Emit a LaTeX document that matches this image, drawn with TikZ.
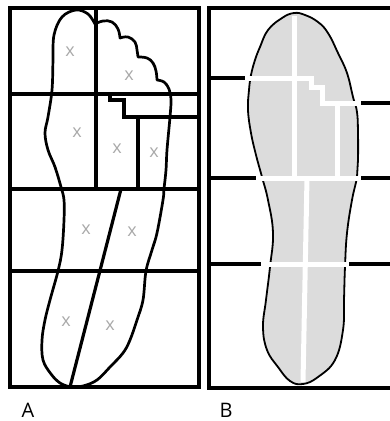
\documentclass[tikz,border=0pt]{standalone}
\usepackage{fontspec}
\setmainfont{Open Sans}
\usepackage{tikz}
\usetikzlibrary{positioning}
\definecolor{solegray}{HTML}{DCDCDC}
\definecolor{markgray}{HTML}{A9A9A9}
\tikzset{
  frame/.style={black, line width=3.2pt},
  footline/.style={black, line width=2.7pt, line join=round},
  soleline/.style={black, fill=solegray, line width=1.8pt},
  seam/.style={white, line width=5pt},
  xmark/.style={markgray, inner sep=0pt, font=\fontsize{18}{18}\selectfont},
  panel/.style={inner sep=0pt, font=\fontsize{20}{20}\selectfont}
}

\begin{document}
\begin{tikzpicture}[x=1pt,y=-1pt]
  \useasboundingbox (0,0) rectangle (390,421);

  % left panel: grid and foot outline
  \draw[frame] (10,8) rectangle (199,387);
  \foreach \y in {94,189,271}
    \draw[frame] (10,\y) -- (199,\y);
  \draw[frame] (96,8) -- (96,189);
  \draw[frame] (96,94) -- (110,94) -- (110,100) -- (124,100) -- (124,117) -- (199,117);
  \draw[frame] (138,117) -- (138,189);
  \draw[frame] (121,189) -- (70,387);

  \draw[footline] plot[smooth, tension=0.6] coordinates {(70,387) (60,383) (51,374)
      (43,360) (42,340) (45,320) (50,300) (58,271) (62,250) (64,220) (64,200) (61,187)
      (55,167) (48,150) (45,133) (48,117) (52,90) (53,60) (54,35) (62,17) (76,10)
      (88,14) (95,24)}
    -- plot[smooth, tension=0.7] coordinates {(95,24) (103,21) (112,22) (118,29) (120,38)}
    -- plot[smooth, tension=0.7] coordinates {(120,38) (128,37) (135,42) (137,50) (138,57)}
    -- plot[smooth, tension=0.7] coordinates {(138,57) (147,58) (153,63) (156,71) (157,80)}
    -- plot[smooth, tension=0.6] coordinates {(157,80) (164,82) (169,89) (171,100)
      (170,117) (167,150) (166,170) (164,189) (163,200) (157,233) (152,250) (146,271)
      (143,300) (137,320) (130,340) (123,353) (110,367) (97,380) (83,386) (70,387)}
    -- cycle;

  \foreach \p [count=\i] in {(70,52),(129,76),(77,133),(117,149),(154,153),
      (86,230),(132,232),(66,322),(110,326)}
    \node[xmark] (mark\i) at \p {x};

  % right panel: frame, grid lines and shaded sole
  \draw[frame] (390,8) -- (209,8) -- (209,388) -- (390,388);
  \foreach \y in {178,264}
    \draw[frame] (209,\y) -- (390,\y);
  \draw[frame] (209,78) -- (262,78);
  \draw[frame] (340,103) -- (390,103);

  \draw[soleline] plot[smooth cycle, tension=0.7] coordinates {(294,13) (305,15)
      (318,22) (328,33) (338,53) (347,73) (353,97) (357,112) (358,133) (358,160)
      (357,177) (352,200) (347,233) (345,267) (344,300) (343,330) (335,360) (318,377)
      (303,384) (290,381) (278,367) (267,350) (263,327) (266,300) (270,267) (273,233)
      (268,200) (262,177) (256,155) (251,133) (248,110) (249,90) (251,75) (255,60)
      (260,47) (268,30) (282,18)};

  \draw[seam] (294,16) -- (294,178);
  \draw[seam] (245,78) -- (311,78) -- (311,87) -- (322,87) -- (322,103) -- (361,103);
  \draw[seam] (337,103) -- (337,178);
  \draw[seam] (256,178) -- (361,178);
  \draw[seam] (307,178) -- (303,382);
  \draw[seam] (261,264) -- (349,264);

  \node[panel] (labelA) at (28,410) {A};
  \node[panel] (labelB) at (226,410) {B};
\end{tikzpicture}
\end{document}
